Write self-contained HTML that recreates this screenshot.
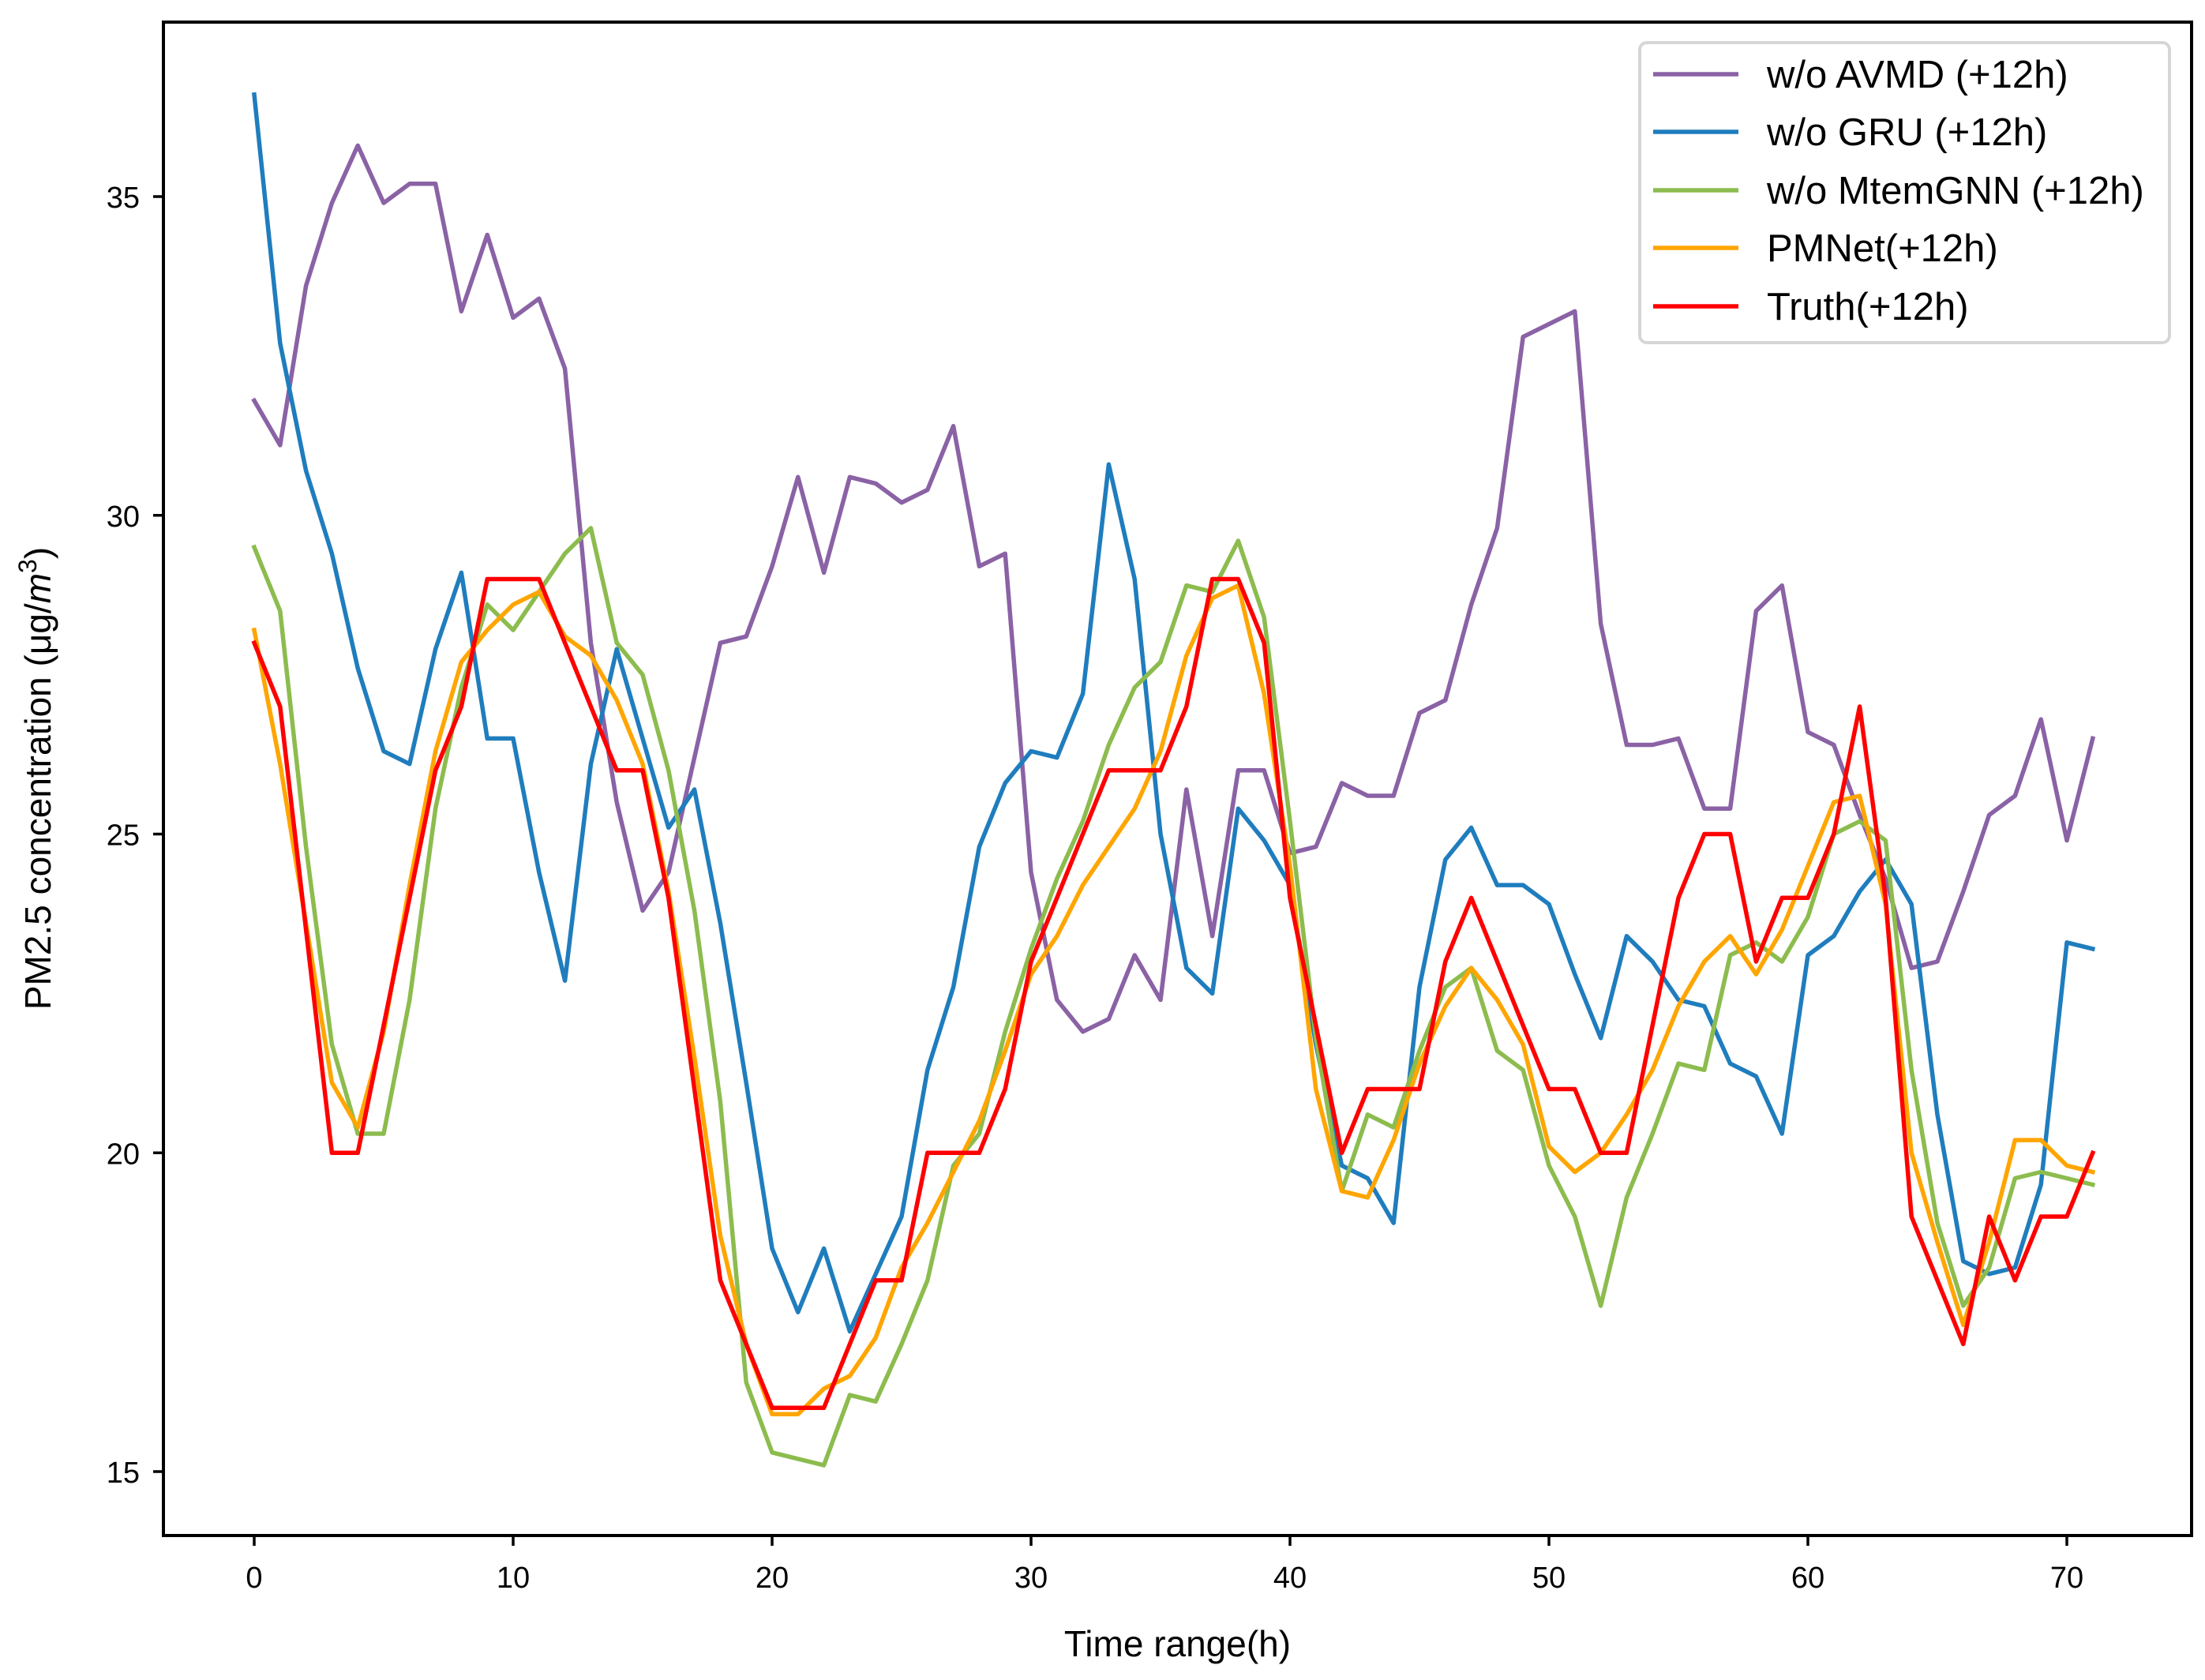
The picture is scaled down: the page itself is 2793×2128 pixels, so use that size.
<!DOCTYPE html>
<html><head><meta charset="utf-8"><style>
html,body{margin:0;padding:0;background:#fff}
svg{display:block}
text{font-family:"Liberation Sans",Arial,sans-serif;fill:#000}
</style></head><body>
<svg id="chart" width="2793" height="2128" viewBox="0 0 2793 2128" xmlns="http://www.w3.org/2000/svg">
<g id="series-layer"></g>
<g id="axes-layer"></g>
<g id="legend-layer"></g>
</svg>
<script>
const xTicks = [0,10,20,30,40,50,60,70];
const yTicks = [15,20,25,30,35];
const seriesNames = ["w/o AVMD (+12h)","w/o GRU (+12h)","w/o MtemGNN (+12h)","PMNet(+12h)","Truth(+12h)"];
const avmd = [31.8,31.1,33.6,34.9,35.8,34.9,35.2,35.2,33.2,34.4,33.1,33.4,32.3,28,25.5,23.8,24.4,26.2,28,28.1,29.2,30.6,29.1,30.6,30.5,30.2,30.4,31.4,29.2,29.4,24.4,22.4,21.9,22.1,23.1,22.4,25.7,23.4,26,26,24.7,24.8,25.8,25.6,25.6,26.9,27.1,28.6,29.8,32.8,33,33.2,28.3,26.4,26.4,26.5,25.4,25.4,28.5,28.9,26.6,26.4,25.3,24.3,22.9,23,24.1,25.3,25.6,26.8,24.9,26.5];
const gru = [36.6,32.7,30.7,29.4,27.6,26.3,26.1,27.9,29.1,26.5,26.5,24.4,22.7,26.1,27.9,26.5,25.1,25.7,23.6,21.1,18.5,17.5,18.5,17.2,18.1,19,21.3,22.6,24.8,25.8,26.3,26.2,27.2,30.8,29,25,22.9,22.5,25.4,24.9,24.2,21.7,19.8,19.6,18.9,22.6,24.6,25.1,24.2,24.2,23.9,22.8,21.8,23.4,23,22.4,22.3,21.4,21.2,20.3,23.1,23.4,24.1,24.6,23.9,20.6,18.3,18.1,18.2,19.5,23.3,23.2];
const mtem = [29.5,28.5,24.8,21.7,20.3,20.3,22.4,25.4,27.3,28.6,28.2,28.8,29.4,29.8,28,27.5,26,23.8,20.8,16.4,15.3,15.2,15.1,16.2,16.1,17,18,19.8,20.3,21.9,23.2,24.3,25.2,26.4,27.3,27.7,28.9,28.8,29.6,28.4,25.2,21.8,19.4,20.6,20.4,21.6,22.6,22.9,21.6,21.3,19.8,19,17.6,19.3,20.3,21.4,21.3,23.1,23.3,23,23.7,25,25.2,24.9,21.3,18.9,17.6,18.2,19.6,19.7,19.6,19.5];
const pmnet = [28.2,26.1,23.6,21.1,20.4,21.9,24.2,26.3,27.7,28.2,28.6,28.8,28.1,27.8,27.1,26.1,24.1,21.5,18.7,17,15.9,15.9,16.3,16.5,17.1,18.2,18.9,19.7,20.5,21.6,22.8,23.4,24.2,24.8,25.4,26.3,27.8,28.7,28.9,27.2,24.5,21,19.4,19.3,20.2,21.4,22.3,22.9,22.4,21.7,20.1,19.7,20,20.6,21.3,22.3,23,23.4,22.8,23.5,24.5,25.5,25.6,23.9,20,18.6,17.3,18.6,20.2,20.2,19.8,19.7];
const truth = [28,27,23.5,20,20,22,24,26,27,29,29,29,28,27,26,26,24,21,18,17,16,16,16,17,18,18,20,20,20,21,23,24,25,26,26,26,27,29,29,28,24,22,20,21,21,21,23,24,23,22,21,21,20,20,22,24,25,25,23,24,24,25,27,24,19,18,17,19,18,19,19,20];

const NS="http://www.w3.org/2000/svg";
const L=207,R=2776,T=28,B=1945;
const xScale=v=>322+(v-0)*(2618-322)/70;
const yScale=v=>1864-(v-15)*(1864-249)/20;
const colors=["#8a62a5","#1f7dbd","#8cbc4e","#ffa500","#ff0000"];
const allSeries=[avmd,gru,mtem,pmnet,truth];
const keys=["avmd","gru","mtemgnn","pmnet","truth"];
function mk(tag,attrs,parent){const e=document.createElementNS(NS,tag);for(const k in attrs)e.setAttribute(k,attrs[k]);parent.appendChild(e);return e;}

const sl=document.getElementById('series-layer');
allSeries.forEach((s,i)=>{
  const d=s.map((v,j)=>(j?'L':'M')+xScale(j).toFixed(1)+','+yScale(v).toFixed(1)).join(' ');
  const p=mk('path',{d:d,fill:'none',stroke:colors[i],'stroke-width':5.5,'stroke-linejoin':'round','stroke-linecap':'square'},sl);
  
  
});

const ax=document.getElementById('axes-layer');
const frame=mk('rect',{x:L,y:T,width:R-L,height:B-T,fill:'none',stroke:'#000','stroke-width':4},ax);


xTicks.forEach(t=>{
  const x=xScale(t);
  const tk=mk('line',{x1:x,x2:x,y1:B,y2:B+13,stroke:'#000','stroke-width':3.5},ax);
  
  
  const tx=mk('text',{x:x,y:B+66,'font-size':38,'text-anchor':'middle'},ax);
  tx.textContent=t;
  
  
});
yTicks.forEach(t=>{
  const y=yScale(t);
  const tk=mk('line',{x1:L-13,x2:L,y1:y,y2:y,stroke:'#000','stroke-width':3.5},ax);
  
  
  const tx=mk('text',{x:L-30,y:y+14,'font-size':38,'text-anchor':'end'},ax);
  tx.textContent=t;
  
  
});
const xl=mk('text',{x:(L+R)/2,y:2098,'font-size':46,'text-anchor':'middle'},ax);
xl.textContent='Time range(h)';


const yl=mk('text',{x:0,y:0,'font-size':46,'text-anchor':'middle',transform:'translate(64,986) rotate(-90)'},ax);


yl.innerHTML='PM2.5 concentration (μg/<tspan font-style="italic">m</tspan><tspan dy="-18" font-size="32">3</tspan><tspan dy="18">)</tspan>';

const lg=document.getElementById('legend-layer');
const box=mk('rect',{x:2077,y:54,width:671,height:380,rx:9,fill:'#fff',stroke:'#d6d6d6','stroke-width':4},lg);


const rowY=[94,167,241,314,388];
seriesNames.forEach((n,i)=>{
  const g=mk('g',{},lg);
  
  
  mk('line',{x1:2094,x2:2202,y1:rowY[i],y2:rowY[i],stroke:colors[i],'stroke-width':5.5},g);
  const t=mk('text',{x:2238,y:rowY[i]+17,'font-size':49},g);
  t.textContent=n;
});
</script>
</body></html>
